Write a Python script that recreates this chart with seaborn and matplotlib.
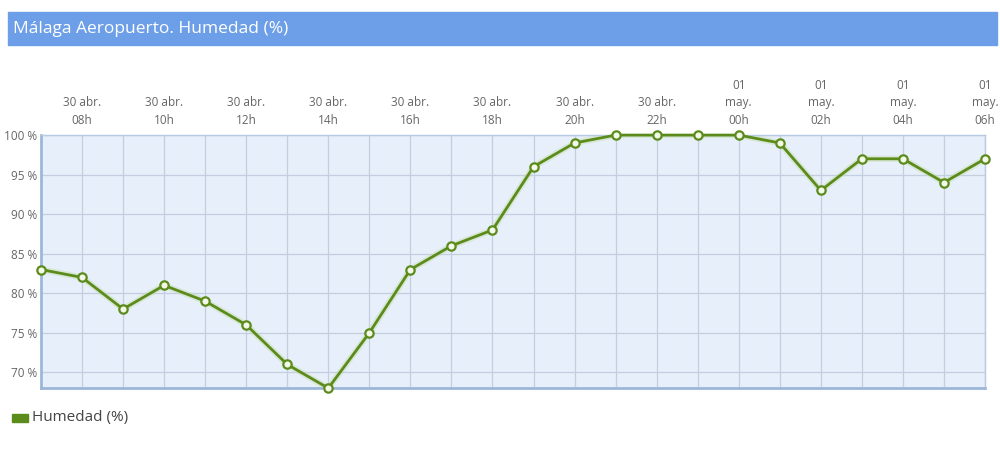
import pandas as pd
import matplotlib.pyplot as plt
import seaborn as sns
from matplotlib.patches import Rectangle

horas = ["07h", "08h", "09h", "10h", "11h", "12h", "13h", "14h", "15h", "16h", "17h", "18h",
         "19h", "20h", "21h", "22h", "23h", "00h", "01h", "02h", "03h", "04h", "05h", "06h"]
dias = ["30 abr."] * 17 + ["01\nmay."] * 7
humedad = [83, 82, 78, 81, 79, 76, 71, 68, 75, 83, 86, 88,
           96, 99, 100, 100, 100, 100, 99, 93, 97, 97, 94, 97]
yticks = [70, 75, 80, 85, 90, 95, 100]

df = pd.DataFrame({"pos": range(len(horas)), "hora": horas, "Humedad": humedad})

sns.set_style("white")
plt.rcParams["font.family"] = ["Open Sans", "DejaVu Sans"]

verde = "#5b8c1b"
fig = plt.figure(figsize=(10, 4.61), dpi=100)
ax = fig.add_axes([0.041, 0.158, 0.944, 0.549])
ax.set_facecolor("#e7effa")

# sombra suave bajo la linea
ax.plot(df["pos"], df["Humedad"], color="#c6dcab", lw=4.5, alpha=0.45, zorder=2,
        solid_capstyle="round")
sns.lineplot(data=df, x="pos", y="Humedad", ax=ax, color=verde, lw=2, zorder=3,
             marker="o", markersize=6, markerfacecolor="#f4f8e8",
             markeredgecolor=verde, markeredgewidth=1.6, clip_on=False)

ax.set_xlim(0, len(horas) - 1)
ax.set_ylim(68, 100)
ax.set_xticks(range(len(horas)))
ax.set_xticklabels([])
ax.set_yticks(yticks)
ax.set_yticklabels([f"{v} %" for v in yticks], color="#666666", fontsize=8.5)
ax.tick_params(axis="both", length=0, pad=3)
ax.grid(True, color="#c3cfe0", lw=0.9)
ax.set_axisbelow(True)
ax.set_xlabel("")
ax.set_ylabel("")

for s in ["top", "right"]:
    ax.spines[s].set_color("#b7cae4")
    ax.spines[s].set_linewidth(1)
for s in ["left", "bottom"]:
    ax.spines[s].set_color("#9db7da")
    ax.spines[s].set_linewidth(2)

# etiquetas de hora arriba
for i in range(1, len(horas), 2):
    ax.annotate(f"{dias[i]}\n{horas[i]}", xy=(i, 100), xycoords="data",
                xytext=(0, 6), textcoords="offset points", ha="center", va="bottom",
                fontsize=8.5, color="#666666", linespacing=1.45, annotation_clip=False)

# barra del titulo
fig.patches.append(Rectangle((0.008, 0.902), 0.989, 0.0716, transform=fig.transFigure,
                             color="#6d9fe8", zorder=0))
fig.text(0.013, 0.937, "Málaga Aeropuerto. Humedad (%)", color="white",
         fontsize=12.5, va="center", ha="left")

# leyenda
fig.patches.append(Rectangle((0.012, 0.085), 0.016, 0.017, transform=fig.transFigure,
                             color=verde))
fig.text(0.032, 0.094, "Humedad (%)", color="#444444", fontsize=11, va="center")

fig.savefig("out.png", dpi=100)
